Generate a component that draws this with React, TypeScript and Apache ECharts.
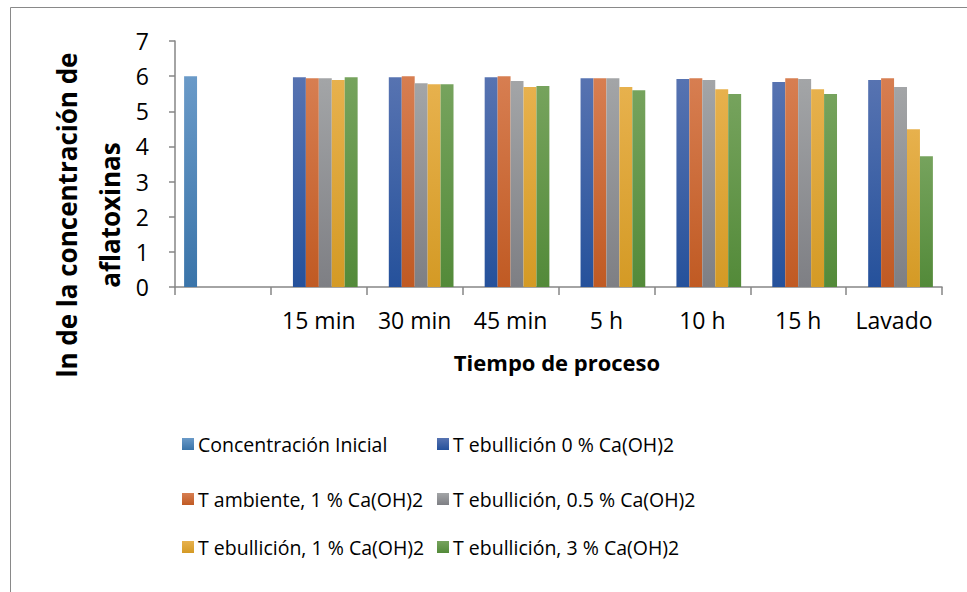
import React, { useEffect, useRef } from "react";
import * as echarts from "echarts";

const categories = ["", "15 min", "30 min", "45 min", "5 h", "10 h", "15 h", "Lavado"];
const seriesNames = [
  "Concentración Inicial",
  "T ebullición 0 % Ca(OH)2",
  "T ambiente, 1 % Ca(OH)2",
  "T ebullición, 0.5 % Ca(OH)2",
  "T ebullición, 1 % Ca(OH)2",
  "T ebullición, 3 % Ca(OH)2",
];
const inicial = [6.0, null, null, null, null, null, null, null];
const ebull0 = [null, 5.97, 5.97, 5.97, 5.94, 5.92, 5.83, 5.89];
const ambiente1 = [null, 5.94, 6.0, 6.0, 5.94, 5.94, 5.94, 5.94];
const ebull05 = [null, 5.94, 5.8, 5.86, 5.94, 5.89, 5.92, 5.69];
const ebull1 = [null, 5.89, 5.77, 5.69, 5.69, 5.63, 5.63, 4.49];
const ebull3 = [null, 5.97, 5.77, 5.72, 5.6, 5.49, 5.49, 3.72];
const yTicks = [0, 1, 2, 3, 4, 5, 6, 7];

const gradients: [string, string][] = [
  ["#6A9AC8", "#3A74A9"],
  ["#5773B1", "#25519B"],
  ["#D77E51", "#C05A23"],
  ["#A3A5A7", "#7E7F84"],
  ["#E7B14D", "#D49A25"],
  ["#76A35D", "#538A39"],
];

const FONT = "'Open Sans', sans-serif";

export default function App() {
  const ref = useRef<HTMLDivElement>(null);
  useEffect(() => {
    if (!ref.current) return;
    const chart = echarts.init(ref.current, undefined, { renderer: "svg" });
    const data = [inicial, ebull0, ambiente1, ebull05, ebull1, ebull3];
    const grad = (c: [string, string]) =>
      new echarts.graphic.LinearGradient(0, 0, 0, 1, [
        { offset: 0, color: c[0] },
        { offset: 1, color: c[1] },
      ]);
    const legendTops = [434, 489, 537];
    const legendLefts = [182, 437];
    chart.setOption({
      animation: false,
      backgroundColor: "#ffffff",
      textStyle: { fontFamily: FONT },
      grid: { left: 175, right: 25, top: 41, bottom: 305, containLabel: false },
      legend: seriesNames.map((name, i) => ({
        data: [name],
        left: legendLefts[i % 2],
        top: legendTops[Math.floor(i / 2)],
        padding: 0,
        orient: "horizontal",
        itemWidth: 12,
        itemHeight: 12,
        itemGap: 0,
        icon: "rect",
        textStyle: { fontSize: 19.5, color: "#000", fontFamily: FONT, padding: [0, 0, 0, -1] },
      })),
      xAxis: {
        type: "category",
        data: categories,
        axisLine: { lineStyle: { color: "#868686", width: 1.5 } },
        axisTick: { show: true, length: 8, alignWithLabel: false, lineStyle: { color: "#868686", width: 1.5 } },
        axisLabel: { color: "#000", fontSize: 23, fontFamily: FONT, margin: 21, interval: 0 },
      },
      yAxis: {
        type: "value",
        min: yTicks[0],
        max: yTicks[yTicks.length - 1],
        interval: 1,
        axisLine: { show: true, lineStyle: { color: "#868686", width: 1.5 } },
        axisTick: { show: true, length: 6, lineStyle: { color: "#868686", width: 1.5 } },
        splitLine: { show: false },
        axisLabel: { color: "#000", fontSize: 23, fontFamily: FONT, margin: 26 },
      },
      graphic: [
        {
          type: "rect",
          shape: { x: 10.5, y: 7.5, width: 1200, height: 800 },
          style: { fill: "none", stroke: "#898989", lineWidth: 1 },
          silent: true,
        },
        {
          type: "text",
          x: 67,
          y: 215,
          rotation: Math.PI / 2,
          style: {
            text: "ln de la concentración de",
            font: `bold 26px ${FONT}`,
            fill: "#000",
            align: "center",
            verticalAlign: "middle",
          },
        },
        {
          type: "text",
          x: 110,
          y: 215,
          rotation: Math.PI / 2,
          style: {
            text: "aflatoxinas",
            font: `bold 26px ${FONT}`,
            fill: "#000",
            align: "center",
            verticalAlign: "middle",
          },
        },
        {
          type: "text",
          x: 557,
          y: 362,
          style: {
            text: "Tiempo de proceso",
            font: `bold 22px ${FONT}`,
            fill: "#000",
            align: "center",
            verticalAlign: "middle",
          },
        },
      ],
      series: data.map((d, i) => ({
        name: seriesNames[i],
        type: "bar",
        data: d,
        barGap: "0%",
        barCategoryGap: "19%",
        itemStyle: { color: grad(gradients[i]) },
      })),
    });
    return () => chart.dispose();
  }, []);
  return (
    <div
      ref={ref}
      style={{ position: "fixed", left: 0, top: 0, width: 967, height: 592 }}
    />
  );
}
